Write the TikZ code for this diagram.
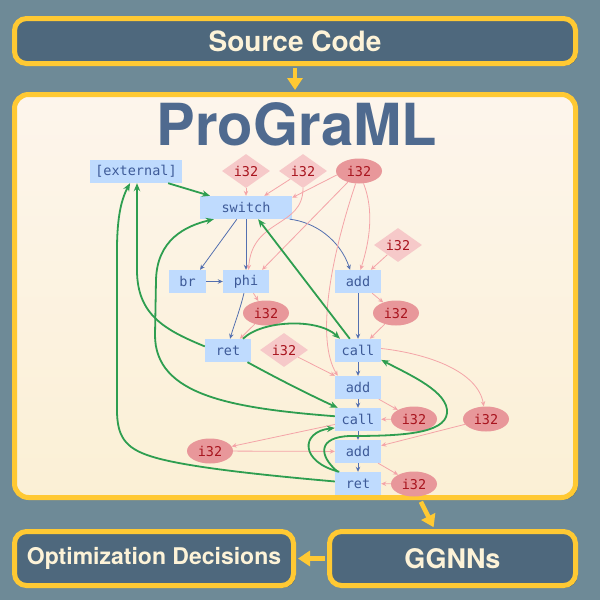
\documentclass[tikz,border=0pt]{standalone}
\usepackage{fontspec}
\newfontfamily\headfont{TeX Gyre Heros}
\newfontfamily\codefont{DejaVu Sans Mono}
\usetikzlibrary{shapes.geometric,arrows.meta,shadows,calc}

\definecolor{bgslate}{HTML}{6E8A97}
\definecolor{boxfill}{HTML}{4E687D}
\definecolor{gold}{HTML}{FFC933}
\definecolor{cream}{HTML}{FDF3D8}
\definecolor{paneltop}{HTML}{FDF5EC}
\definecolor{panelbot}{HTML}{FBF0D5}
\definecolor{titleblue}{HTML}{4F6A8F}
\definecolor{opfill}{HTML}{BFDBFE}
\definecolor{optext}{HTML}{3D5A98}
\definecolor{valfill}{HTML}{E8979A}
\definecolor{cstfill}{HTML}{F6C9C9}
\definecolor{valtext}{HTML}{A8141E}
\definecolor{ctlcol}{HTML}{5470B0}
\definecolor{datcol}{HTML}{F4A4A8}
\definecolor{callcol}{HTML}{2E9E50}

\begin{document}
\begin{tikzpicture}[x=1pt,y=-1pt,
  softshadow/.style={drop shadow={shadow xshift=2pt, shadow yshift=-2pt, opacity=0.35, fill=black}},
  stagebox/.style={rectangle, rounded corners=12pt, draw=gold, line width=5pt,
    fill=boxfill, text=cream, softshadow,
    font=\headfont\bfseries\fontsize{28}{28}\selectfont},
  flow/.style={draw=gold, line width=4.5pt, shorten <=2pt, shorten >=2pt,
    -{Triangle[length=12pt,width=15pt]}},
  op/.style={rectangle, fill=opfill, text=optext, minimum height=23pt,
    inner sep=0pt, font=\codefont\fontsize{13.5}{13.5}\selectfont},
  val/.style={ellipse, fill=valfill, text=valtext, minimum width=46pt,
    minimum height=25pt, inner sep=0pt, font=\codefont\fontsize{13.5}{13.5}\selectfont},
  cst/.style={diamond, aspect=1.4, fill=cstfill, text=valtext, minimum width=48pt,
    minimum height=34pt, inner sep=0pt, font=\codefont\fontsize{13.5}{13.5}\selectfont},
  ctl/.style={draw=ctlcol, line width=0.8pt, -{Stealth[length=5pt,width=4.5pt]}},
  dat/.style={draw=datcol, line width=0.8pt, -{Stealth[length=5pt,width=4.5pt]}},
  cal/.style={draw=callcol, line width=1.8pt, -{Stealth[length=8pt,width=6.5pt]}}
]
\fill[bgslate] (0,0) rectangle (600,600);
\useasboundingbox (0,0) rectangle (600,600);

% pipeline stages
\node[stagebox, minimum width=561pt, minimum height=45pt] (src) at (295,41) {Source Code};
\node[rectangle, rounded corners=14pt, draw=gold, line width=5pt,
      top color=paneltop, bottom color=panelbot, softshadow,
      minimum width=561pt, minimum height=403pt] (prog) at (295,296) {};
\node[stagebox, minimum width=279pt, minimum height=54pt,
      font=\headfont\bfseries\fontsize{23}{23}\selectfont] (opt) at (154,558.5) {Optimization Decisions};
\node[stagebox, minimum width=246pt, minimum height=54pt,
      font=\headfont\bfseries\fontsize{27}{27}\selectfont] (ggnn) at (452.5,558.5) {GGNNs};

\draw[flow] (src.south) -- (prog.north);
\draw[flow] ([xshift=125pt]prog.south) -- ([xshift=-18pt]ggnn.north);
\draw[flow] (ggnn.west) -- (opt.east);

% title
\node[anchor=base, text=titleblue, font=\headfont\bfseries\fontsize{58}{58}\selectfont]
  (title) at (297,145) {ProGraML};

% program graph nodes
\node[op, minimum width=92pt] (ext) at (136,171.5) {[external]};
\node[cst] (d1) at (246,171) {i32};
\node[cst] (d2) at (303,171) {i32};
\node[val] (e1) at (359,171) {i32};
\node[op, minimum width=92pt] (sw) at (246,207.5) {switch};
\node[cst] (d3) at (398,245) {i32};
\node[op, minimum width=37pt] (br) at (187.5,281.5) {br};
\node[op, minimum width=46pt] (phi) at (246,281.5) {phi};
\node[op, minimum width=46pt] (add1) at (358,281.5) {add};
\node[val] (e2) at (266,313) {i32};
\node[val] (e3) at (396,313) {i32};
\node[op, minimum width=46pt] (ret1) at (228,350.5) {ret};
\node[cst] (d4) at (284,350) {i32};
\node[op, minimum width=46pt] (call1) at (358,350.5) {call};
\node[op, minimum width=46pt] (add2) at (358,387.5) {add};
\node[op, minimum width=46pt] (call2) at (358,419.5) {call};
\node[val] (e4) at (414,419) {i32};
\node[val] (e5) at (486,419) {i32};
\node[val] (e6) at (210,451) {i32};
\node[op, minimum width=46pt] (add3) at (358,451.5) {add};
\node[op, minimum width=46pt] (ret2) at (358,483.5) {ret};
\node[val] (e7) at (414,484) {i32};

% control flow
\draw[ctl] (sw.-128) -- (br.43);
\draw[ctl] (sw.south) -- (phi.north);
\draw[ctl] (sw.-15) .. controls (315,222) and (340,240) .. (add1.124);
\draw[ctl] (br.east) -- (phi.west);
\draw[ctl] (phi.-100) .. controls (240,310) and (234,325) .. (ret1.80);
\draw[ctl] (add1.south) -- (call1.north);
\draw[ctl] (call1.south) -- (add2.north);
\draw[ctl] (add2.south) -- (call2.north);
\draw[ctl] (call2.south) -- (add3.north);
\draw[ctl] (add3.south) -- (ret2.north);

% data flow
\draw[dat] (d1.south) -- (sw.north);
\draw[dat] (d2) -- (sw);
\draw[dat] (e1.190) -- (sw.12);
\draw[dat] (d2.south) .. controls (303,228) and (252,218) .. (phi.78);
\draw[dat] (e1.225) -- (phi.36);
\draw[dat] (e1.-70) .. controls (374,210) and (370,240) .. (add1.78);
\draw[dat] (e1.-105) .. controls (330,260) and (316,340) .. (add2.150);
\draw[dat] (d3) -- (add1);
\draw[dat] (add1) -- (e3);
\draw[dat] (e3) -- (call1);
\draw[dat] (phi) -- (e2);
\draw[dat] (e2) -- (ret1);
\draw[dat] (d4) -- (add2);
\draw[dat] (add2) -- (e4);
\draw[dat] (e4) -- (call2);
\draw[dat] (add3) -- (e7);
\draw[dat] (e7) -- (ret2);
\draw[dat] (call2) -- (e6);
\draw[dat] (e6) -- (add3);
\draw[dat] (e5) -- (add3);
\draw[dat] (call1.5) .. controls (430,354) and (478,372) .. (e5.100);

% call edges
\draw[cal] (ext.-20) -- (sw.162);
\draw[cal] (call1.125) -- (sw.-44);
\draw[cal] (ret1.38) .. controls (262,320) and (318,318) .. (call1.147);
\draw[cal] (ret1.-31) .. controls (280,380) and (310,395) .. (call2.150);
\draw[cal] (call2.172) .. controls (230,408) and (155,395) .. (155,335)
  -- (156,280) .. controls (157,240) and (185,226) .. (sw.200);
\draw[cal] (ret1.170) .. controls (165,330) and (137,315) .. (137,270)
  -- ([xshift=1pt]ext.south);
\draw[cal] (ret2.175) .. controls (250,474) and (180,466) .. (150,456)
  .. controls (125,448) and (117,436) .. (117,410)
  -- (117,250) .. controls (117,215) and (122,198) .. (ext.243);
\draw[cal] (ret2.148) .. controls (300,462) and (300,432) .. (call2.200);
\draw[cal] (ret2.150) .. controls (318,455) and (318,437) .. (350,436)
  .. controls (400,436) and (445,434) .. (447,413)
  .. controls (449,392) and (410,375) .. (call1.-22);
\end{tikzpicture}
\end{document}
